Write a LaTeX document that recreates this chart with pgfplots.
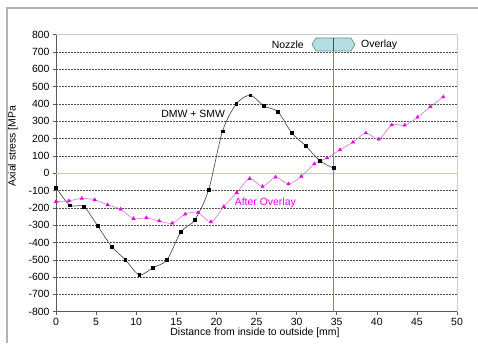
\documentclass[border=0pt]{standalone}
\usepackage{pgfplots}
\pgfplotsset{compat=1.18}
\usepackage{fontspec}
\setmainfont{Liberation Sans}
\definecolor{magline}{RGB}{225,110,225}
\definecolor{magmark}{RGB}{230,0,230}
\definecolor{zeroline}{RGB}{200,214,120}
\definecolor{vline}{RGB}{95,140,210}
\definecolor{hexfill}{RGB}{182,222,226}
\definecolor{hexdraw}{RGB}{110,140,145}
\begin{document}
\begin{tikzpicture}[x=1bp,y=1bp]
\path[use as bounding box] (0,0) rectangle (478,343);
\draw[gray!60, line width=1.2bp] (7,0) -- (7,335) -- (478,335);
\begin{axis}[
  at={(56bp,31.3bp)}, anchor=south west,
  scale only axis, width=401bp, height=277bp,
  xmin=0, xmax=50, ymin=-800, ymax=800,
  xtick={0,5,...,50}, ytick={-800,-700,...,800},
  xtick pos=bottom, ytick pos=left,
  tick align=outside, major tick length=3bp,
  tick style={gray!70!black, line width=0.5bp},
  axis line style={draw=none},
  ymajorgrids, grid style={dash pattern=on 1.6bp off 1.4bp, black!70, line width=0.5bp},
  /pgf/number format/assume math mode=true,
  ticklabel style={font=\fontsize{10.5}{12}\selectfont},
  clip=false,
]
\draw[gray!40, line width=0.8bp] (axis cs:0,800) -- (axis cs:50,800) -- (axis cs:50,-800);
\draw[gray!70!black, line width=0.8bp] (axis cs:0,800) -- (axis cs:0,-800) -- (axis cs:50,-800);
\draw[zeroline, line width=0.8bp] (axis cs:0,0) -- (axis cs:50,0);
\draw[vline, line width=0.9bp] (axis cs:34.6,-800) -- (axis cs:34.6,706);
\addplot[black!75, line width=0.6bp, smooth, tension=0.5, mark=square*, mark size=1.4bp, mark options={fill=black, draw=black}] coordinates {
(0,-83) (1.73,-185) (3.46,-193) (5.19,-304) (6.92,-423) (8.65,-500) (10.38,-587)
(12.11,-545) (13.84,-500) (15.57,-339) (17.30,-270) (19.03,-96) (20.76,242)
(22.49,400) (24.22,450) (25.95,388) (27.68,354) (29.41,232) (31.14,158)
(32.87,73) (34.60,29)
};
\addplot[magline, line width=0.6bp, smooth, tension=0.5, mark=triangle*, mark size=1.8bp, mark options={fill=magmark, draw=magmark}] coordinates {
(0,-164) (1.61,-160) (3.22,-145) (4.83,-154) (6.44,-183) (8.05,-208) (9.66,-262)
(11.27,-258) (12.88,-276) (14.49,-289) (16.10,-237) (17.71,-227) (19.32,-281)
(20.93,-193) (22.54,-112) (24.15,-31) (25.76,-77) (27.37,-23) (28.98,-62)
(30.59,-19) (32.20,53) (33.81,88) (35.42,135) (37.03,179) (38.64,232)
(40.25,196) (41.86,279) (43.47,277) (45.08,323) (46.69,384) (48.30,440)
};
\fill[hexfill] (axis cs:31.92,743.5) -- (axis cs:32.42,781) -- (axis cs:36.78,781) -- (axis cs:37.28,743.5) -- (axis cs:36.78,706) -- (axis cs:32.42,706) -- cycle;
\draw[hexdraw, line width=0.7bp] (axis cs:31.92,743.5) -- (axis cs:32.42,781) -- (axis cs:36.78,781) -- (axis cs:37.28,743.5) -- (axis cs:36.78,706) -- (axis cs:32.42,706) -- cycle;
\draw[black!70, line width=0.6bp] (axis cs:34.6,781) -- (axis cs:34.6,706);
\node[font=\fontsize{10.5}{12}\selectfont] at (axis cs:28.9,740) {Nozzle};
\node[font=\fontsize{10.5}{12}\selectfont] at (axis cs:40.3,740) {Overlay};
\node[font=\fontsize{10.5}{12}\selectfont] at (axis cs:17.1,342) {DMW + SMW};
\node[font=\fontsize{10.5}{12}\selectfont, text=magmark] at (axis cs:26.1,-173) {After Overlay};
\end{axis}
\node[rotate=90, font=\fontsize{10.5}{12}\selectfont] at (13,197) {Axial stress [MPa};
\node[font=\fontsize{10.5}{12}\selectfont] at (255,10) {Distance from inside to outside [mm]};
\end{tikzpicture}
\end{document}
